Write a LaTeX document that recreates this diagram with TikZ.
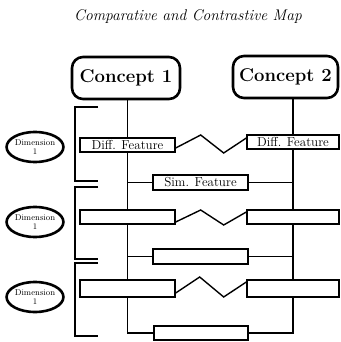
\documentclass[tikz,border=0pt]{standalone}
\usetikzlibrary{calc,shapes.geometric}

\tikzset{
  concept/.style={draw, line width=2.6pt, rounded corners=11pt, minimum width=108pt, minimum height=42pt, inner sep=0pt, font=\fontsize{18.5}{20}\selectfont\bfseries},
  feature/.style={draw, fill=white, line width=1.4pt, minimum height=14pt, inner sep=0pt, font=\fontsize{13}{13}\selectfont},
  dimension/.style={draw, ellipse, line width=2.6pt, minimum width=55pt, minimum height=30pt, inner sep=0pt, align=center, font=\fontsize{8.5}{9}\selectfont},
  link/.style={line width=1.4pt},
}

\begin{document}
\begin{tikzpicture}[x=1pt, y=-1pt]
        \useasboundingbox (0,0) rectangle (340,342);
        \node (title) at (188,17) {\fontsize{15.5}{18}\selectfont\itshape Comparative and Contrastive Map};
        \node[concept] (c1) at (126,78) {Concept 1};
        \node[concept, minimum width=105pt] (c2) at (285.5,77) {Concept 2};
        % dimensions
        \node[dimension] (e1) at (35,147) {Dimension\\1};
        \node[dimension] (e2) at (35,222) {Dimension\\1};
        \node[dimension] (e3) at (35,297) {Dimension\\1};
        % features
        \node[feature, minimum width=95pt] (d1l) at (127.5,145) {Diff. Feature};
        \node[feature, minimum width=92pt] (d1r) at (293,142) {Diff. Feature};
        \node[feature, minimum width=95pt, minimum height=15pt] (s1) at (200.5,182.5) {Sim. Feature};
        \node[feature, minimum width=95pt] (d2l) at (127.5,217) {};
        \node[feature, minimum width=92pt] (d2r) at (293,217) {};
        \node[feature, minimum width=95pt, minimum height=15pt] (s2) at (200.5,256.5) {};
        \node[feature, minimum width=95pt, minimum height=17pt] (d3l) at (127.5,288.5) {};
        \node[feature, minimum width=92pt, minimum height=17pt] (d3r) at (293,288.5) {};
        \node[feature, minimum width=94pt] (s3) at (201,333) {};
        % columns
        \draw[link] (c1.south -| d1l.north) -- (d1l.north);
        \draw[link] (d1l.south) -- (d2l.north);
        \draw[link] (d2l.south) -- (d3l.north);
        \draw[link] (d3l.south) |- (s3.west);
        \draw[link] (c2.south -| d1r.north) -- (d1r.north);
        \draw[link] (d1r.south) -- (d2r.north);
        \draw[link] (d2r.south) -- (d3r.north);
        \draw[link] (d3r.south) |- (s3.east);
        \draw[link] (s1.west) -- (s1.west -| d1l.south);
        \draw[link] (s1.east) -- (s1.east -| d1r.south);
        \draw[link] (s2.west) -- (s2.west -| d2l.south);
        \draw[link] (s2.east) -- (s2.east -| d2r.south);
        % zigzags
        \draw[link] ($(d1l.east)+(0,3)$) -- ++(25,-13) -- ++(23,18) -- ($(d1r.west)+(0,-4)$);
        \draw[link] ($(d2l.east)+(0,5)$) -- ++(25,-12) -- ++(23,15) -- ($(d2r.west)+(0,-5)$);
        \draw[link] ($(d3l.east)+(0,4.5)$) -- ++(24,-16) -- ++(24,20) -- ($(d3r.west)+(0,-6.5)$);
        % brackets
        \draw[link] (98,107) -- (75,107) -- (75,181) -- (98,181);
        \draw[link] (98,187) -- (75,187) -- (75,259) -- (98,259);
        \draw[link] (98,263) -- (75,263) -- (75,336) -- (98,336);
    \end{tikzpicture}
\end{document}
